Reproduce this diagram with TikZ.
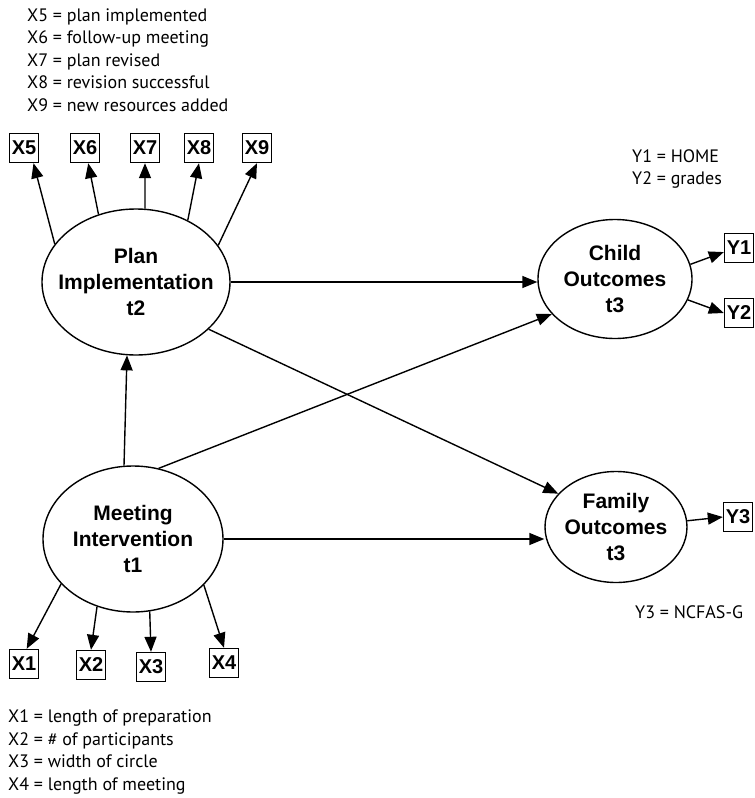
\documentclass[tikz,border=0pt]{standalone}
\usepackage{fontspec}
\setmainfont{PT Sans}
\newfontfamily\boldsans{Liberation Sans}[BoldFont={Liberation Sans Bold}]
\usetikzlibrary{shapes.geometric,arrows.meta}
\begin{document}
\begin{tikzpicture}[x=1pt,y=-1pt,
  conn/.style={line width=1.4pt,-{Triangle[length=15pt,width=12pt]}},
  obs/.style={draw,line width=1.4pt,minimum width=29pt,minimum height=29pt,inner sep=0pt,font=\boldsans\bfseries\fontsize{20}{22}\selectfont},
  latent/.style={draw,ellipse,line width=1.4pt,inner sep=0pt},
  lat/.style={align=center,font=\boldsans\bfseries\fontsize{21}{26}\selectfont},
  legend/.style={anchor=west,inner sep=0pt,align=left,font=\fontsize{18}{22.5}\selectfont}]
\useasboundingbox (0,0) rectangle (755,798);
% latent variables
\node[latent,minimum width=188pt,minimum height=146pt] (plan) at (136,282) {};
\node[lat] (plantext) at (plan) {Plan\\Implementation\\t2};
\node[latent,minimum width=180pt,minimum height=146pt] (meet) at (133,539) {};
\node[lat] (meettext) at (meet) {Meeting\\Intervention\\t1};
\node[latent,minimum width=154pt,minimum height=119pt] (child) at (615,279) {};
\node[lat] (childtext) at (child) {Child\\Outcomes\\t3};
\node[latent,minimum width=142pt,minimum height=111pt] (family) at (616,527) {};
\node[lat] (familytext) at (family) {Family\\Outcomes\\t3};
% observed variables
\node[obs] (x5) at (24,148) {X5};
\node[obs] (x6) at (85,148) {X6};
\node[obs] (x7) at (145,148) {X7};
\node[obs] (x8) at (199,148) {X8};
\node[obs] (x9) at (257,148) {X9};
\node[obs] (x1) at (24,664) {X1};
\node[obs] (x2) at (91,665) {X2};
\node[obs] (x3) at (151,667) {X3};
\node[obs] (x4) at (224,663) {X4};
\node[obs] (y1) at (739,248) {Y1};
\node[obs] (y2) at (739,313) {Y2};
\node[obs] (y3) at (738,517) {Y3};
% legends
\node[legend] (legx59) at (27,60) {X5 = plan implemented\\X6 = follow-up meeting\\X7 = plan revised\\X8 = revision successful\\X9 = new resources added};
\node[legend] (legy12) at (632,169) {Y1 = HOME\\Y2 = grades};
\node[legend] (legy3) at (635,612) {Y3 = NCFAS-G};
\node[legend] (legx14) at (8,752) {X1 = length of preparation\\X2 = \# of participants\\X3 = width of circle\\X4 = length of meeting};
% loadings
\draw[conn] (plan.155) -- (x5.-58);
\draw[conn] (plan.119) -- (x6.-78);
\draw[conn] (plan.83) -- (x7.south);
\draw[conn] (plan.50) -- (x8.south);
\draw[conn] (plan.24) -- (x9.south);
\draw[conn] (meet.212) -- (x1.80);
\draw[conn] (meet.242) -- (x2.north);
\draw[conn] (meet.283) -- (x3.north);
\draw[conn] (meet.327) -- (x4.north);
\draw[conn] (child.11) -- (y1.195);
\draw[conn] (child.344) -- (y2.west);
\draw[conn] (family.5) -- (y3.west);
% structural paths
\draw[conn] (meet.97) -- (plan.263);
\draw[conn] (meet.70) -- (child.209);
\draw[conn] (meet.east) -- (meet.east -| family.west);
\draw[conn] (plan.east) -- (plan.east -| child.west);
\draw[conn] (plan.327) -- (family.150);
\end{tikzpicture}
\end{document}
